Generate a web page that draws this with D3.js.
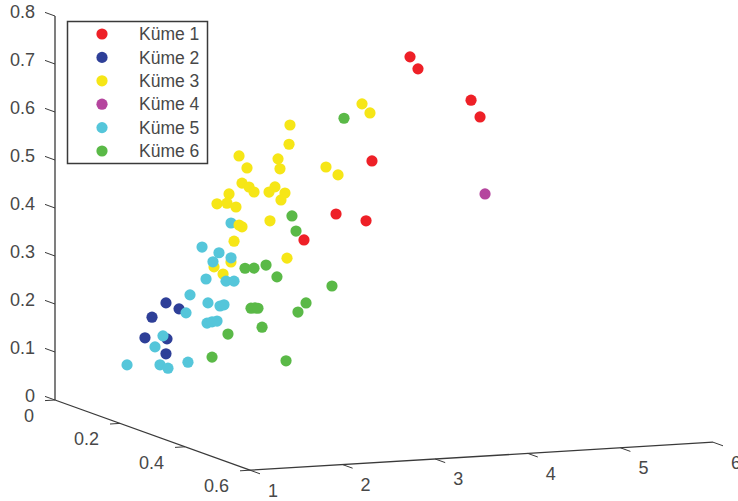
<!DOCTYPE html>
<html>
<head>
<meta charset="utf-8">
<script src="https://cdn.jsdelivr.net/npm/d3@7"></script>
<style>
  html, body { margin: 0; padding: 0; background: #fff; }
  text { font-family: "Liberation Sans", sans-serif; fill: #484848; }
</style>
</head>
<body>
<script>
var names = ["Küme 1", "Küme 2", "Küme 3", "Küme 4", "Küme 5", "Küme 6"];
var colors = ["#ee2027", "#2e3f98", "#f6e617", "#b5459e", "#55c6da", "#5ab947"];

var xTicks = [1, 2, 3, 4, 5, 6];
var yTicks = [0, 0.2, 0.4, 0.6];
var zTicks = [0, 0.1, 0.2, 0.3, 0.4, 0.5, 0.6, 0.7, 0.8];

// x, y (depth, estimated), z for each cluster
var kume1X = [3.430, 3.516, 4.089, 4.186, 3.019, 2.631, 2.955, 2.285];
var kume1Y = [0.4, 0.4, 0.4, 0.4, 0.4, 0.4, 0.4, 0.4];
var kume1Z = [0.784, 0.758, 0.686, 0.650, 0.572, 0.466, 0.448, 0.416];

var kume2X = [1.672, 1.813, 1.521, 1.445, 1.683, 1.672];
var kume2Y = [0.15, 0.15, 0.15, 0.15, 0.15, 0.15];
var kume2Z = [0.231, 0.217, 0.203, 0.161, 0.156, 0.125];

var kume3X = [3.011, 3.001, 2.461, 2.547, 2.882, 2.903, 2.493, 2.569, 2.623, 2.785,
  2.849, 2.957, 2.914, 2.353, 2.223, 2.331, 2.428, 2.461, 2.493, 2.795,
  2.407, 2.979, 2.191, 2.288, 2.374, 3.400, 3.530, 3.789, 3.875];
var kume3Y = [0.15, 0.15, 0.15, 0.15, 0.15, 0.15, 0.15, 0.15, 0.15, 0.15,
  0.15, 0.15, 0.15, 0.15, 0.15, 0.15, 0.15, 0.15, 0.15, 0.15,
  0.15, 0.15, 0.15, 0.15, 0.15, 0.15, 0.15, 0.15, 0.15];
var kume3Z = [0.586, 0.546, 0.528, 0.502, 0.517, 0.496, 0.471, 0.462, 0.451, 0.449,
  0.459, 0.445, 0.431, 0.450, 0.431, 0.431, 0.422, 0.384, 0.380, 0.389,
  0.351, 0.309, 0.300, 0.284, 0.308, 0.494, 0.476, 0.621, 0.601];

var kume4X = [4.240];
var kume4Y = [0.4];
var kume4Z = [0.489];

var kume5X = [1.076, 1.432, 1.518, 1.734, 1.378, 1.464, 1.713, 1.756, 1.929, 1.950, 2.080,
  2.123, 1.940, 1.994, 2.048, 2.004, 2.069, 2.199, 2.145, 2.231, 1.886, 2.550];
var kume5Y = [0.2, 0.2, 0.2, 0.2, 0.2, 0.2, 0.2, 0.2, 0.2, 0.2, 0.2,
  0.2, 0.2, 0.2, 0.2, 0.2, 0.2, 0.2, 0.2, 0.2, 0.2, 0.1];
var kume5Z = [0.121, 0.117, 0.109, 0.119, 0.155, 0.177, 0.222, 0.259, 0.290, 0.240, 0.232,
  0.234, 0.198, 0.200, 0.201, 0.325, 0.343, 0.331, 0.283, 0.282, 0.357, 0.375];

var kume6X = [1.643, 2.442, 1.815, 2.183, 2.064, 2.107, 2.139, 2.571, 2.658, 2.938,
  1.999, 2.096, 2.226, 2.344, 2.506, 2.550, 3.068];
var kume6Y = [0.3, 0.3, 0.3, 0.3, 0.3, 0.3, 0.3, 0.3, 0.3, 0.3,
  0.3, 0.3, 0.3, 0.3, 0.3, 0.3, 0.3];
var kume6Z = [0.155, 0.138, 0.201, 0.211, 0.252, 0.252, 0.251, 0.238, 0.256, 0.288,
  0.336, 0.335, 0.340, 0.314, 0.439, 0.407, 0.636];

function init () {
  'use strict';
  var w = 738;
  var h = 501;

  // each scale gives the pixel offset along its own axis direction
  var xScaleH = d3.scaleLinear().domain([1, 6]).range([0, 463]);
  var xScaleV = d3.scaleLinear().domain([1, 6]).range([0, -28]);
  var yScaleH = d3.scaleLinear().domain([0, 0.6]).range([0, 195]);
  var yScaleV = d3.scaleLinear().domain([0, 0.6]).range([0, 70.2]);
  var zScale = d3.scaleLinear().domain([0, 0.8]).range([0, -384]);

  var originX = 55;
  var originY = 400;

  function px(x, y) {
    return originX + yScaleH(y) + xScaleH(x);
  }
  function py(x, y, z) {
    return originY + yScaleV(y) + xScaleV(x) + zScale(z);
  }

  var svg = d3.select("body")
    .append("svg")
    .attr("width", w)
    .attr("height", h)
    .style("display", "block");

  var axisColor = "#3a3a3a";

  function line(x1, y1, x2, y2, width) {
    svg.append("line")
      .attr("x1", x1)
      .attr("y1", y1)
      .attr("x2", x2)
      .attr("y2", y2)
      .attr("stroke", axisColor)
      .attr("stroke-width", width);
  }

  // three box edges
  line(px(1, 0), py(1, 0, 0), px(1, 0), py(1, 0, 0.8), 1.3);
  line(px(1, 0), py(1, 0, 0), px(1, 0.6), py(1, 0.6, 0), 1.3);
  line(px(1, 0.6), py(1, 0.6, 0), px(6, 0.6), py(6, 0.6, 0), 1.3);

  zTicks.forEach(function(t) {
    var ax = px(1, 0);
    var ay = py(1, 0, t);
    line(ax, ay, ax - 10, ay - 3.6, 1);
    svg.append("text")
      .attr("x", 35)
      .attr("y", ay - 4)
      .attr("dy", "0.35em")
      .attr("text-anchor", "end")
      .attr("font-size", 18)
      .text(d3.format("~g")(t));
  });

  yTicks.forEach(function(t) {
    var ax = px(1, t);
    var ay = py(1, t, 0);
    line(ax, ay, ax - 10, ay + 0.6, 1);
    svg.append("text")
      .attr("x", ax - 21)
      .attr("y", ay + 15.5)
      .attr("dy", "0.35em")
      .attr("text-anchor", "end")
      .attr("font-size", 18)
      .text(d3.format("~g")(t));
  });

  xTicks.forEach(function(t) {
    var ax = px(t, 0.6);
    var ay = py(t, 0.6, 0);
    line(ax, ay, ax + 10, ay + 3.6, 1);
    svg.append("text")
      .attr("x", ax + 23)
      .attr("y", ay + 20)
      .attr("dy", "0.35em")
      .attr("text-anchor", "middle")
      .attr("font-size", 18)
      .text(t);
  });

  var xs = [kume1X, kume2X, kume3X, kume4X, kume5X, kume6X];
  var ys = [kume1Y, kume2Y, kume3Y, kume4Y, kume5Y, kume6Y];
  var zs = [kume1Z, kume2Z, kume3Z, kume4Z, kume5Z, kume6Z];

  var points = [];
  xs.forEach(function(list, k) {
    list.forEach(function(x, i) {
      points.push({ x: x, y: ys[k][i], z: zs[k][i], k: k });
    });
  });

  // far points first, nearer ones paint over them
  points.sort(function(a, b) {
    return a.y - b.y;
  });

  svg.selectAll("circle.point")
    .data(points)
    .enter()
    .append("circle")
    .attr("class", "point")
    .attr("cx", function(d) {
      return px(d.x, d.y);
    })
    .attr("cy", function(d) {
      return py(d.x, d.y, d.z);
    })
    .attr("r", 5.6)
    .attr("fill", function(d) {
      return colors[d.k];
    });

  // legend
  var legendY = d3.scalePoint()
    .domain(names)
    .range([34, 151]);

  svg.append("rect")
    .attr("x", 67.5)
    .attr("y", 21.5)
    .attr("width", 140)
    .attr("height", 142)
    .attr("fill", "#fff")
    .attr("stroke", axisColor)
    .attr("stroke-width", 1.5);

  svg.selectAll("circle.key")
    .data(names)
    .enter()
    .append("circle")
    .attr("class", "key")
    .attr("cx", 102)
    .attr("cy", function(d) {
      return legendY(d);
    })
    .attr("r", 5.6)
    .attr("fill", function(d, i) {
      return colors[i];
    });

  svg.selectAll("text.key")
    .data(names)
    .enter()
    .append("text")
    .attr("class", "key")
    .attr("x", 139)
    .attr("y", function(d) {
      return legendY(d);
    })
    .attr("dy", "0.35em")
    .attr("font-size", 17.5)
    .text(function(d) {
      return d;
    });
}

window.onload = init;
</script>
</body>
</html>
